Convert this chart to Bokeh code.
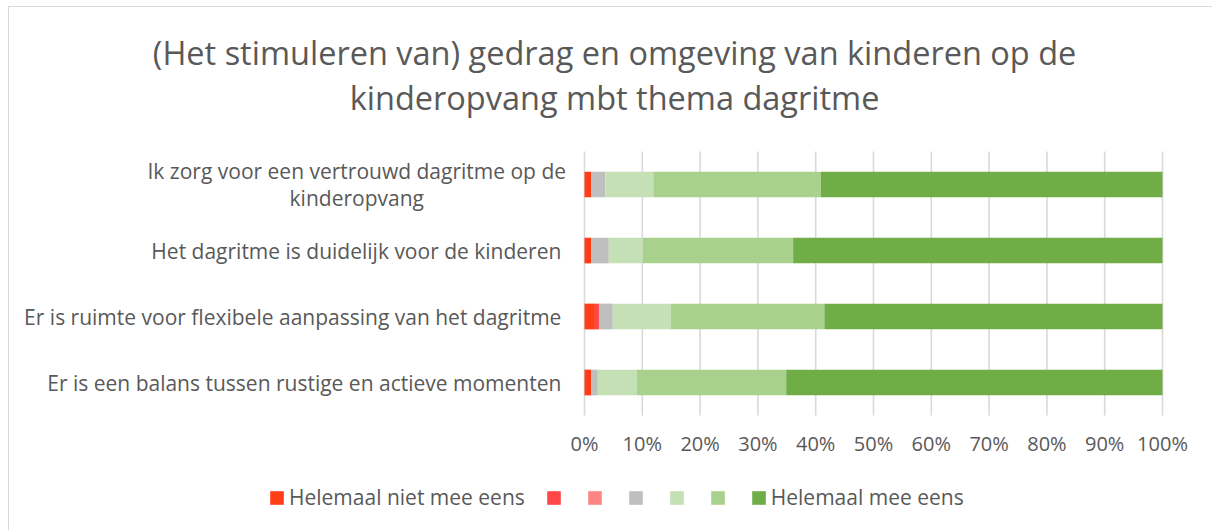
from bokeh.plotting import figure
from bokeh.layouts import column
from bokeh.models import (Range1d, Legend, LegendItem, Label, ColumnDataSource)
from bokeh.core.properties import value
from bokeh.embed import file_html
from bokeh.resources import INLINE

title_lines = ["(Het stimuleren van) gedrag en omgeving van kinderen op de",
               "kinderopvang mbt thema dagritme"]

categories = [
    "Ik zorg voor een vertrouwd dagritme op de kinderopvang",
    "Het dagritme is duidelijk voor de kinderen",
    "Er is ruimte voor flexibele aanpassing van het dagritme",
    "Er is een balans tussen rustige en actieve momenten",
]
# how each category label is shown (first one wraps onto two lines)
category_labels = [
    "Ik zorg voor een vertrouwd dagritme op de\nkinderopvang",
    "Het dagritme is duidelijk voor de kinderen",
    "Er is ruimte voor flexibele aanpassing van het dagritme",
    "Er is een balans tussen rustige en actieve momenten",
]
series_names = ["Helemaal niet mee eens", "", "", "", "", "", "Helemaal mee eens"]
s1 = [1.2, 1.2, 1.8, 1.2]
s2 = [0.0, 0.0, 0.7, 0.0]
s3 = [0.0, 0.0, 0.0, 0.0]
s4 = [2.4, 3.0, 2.4, 1.1]
s5 = [8.3, 5.9, 10.0, 6.7]
s6 = [29.0, 26.0, 26.6, 25.9]
s7 = [59.1, 63.9, 58.5, 65.1]
ticks = list(range(0, 101, 10))
tick_labels = [f"{t}%" for t in ticks]

colors = ["#FF3D17", "#FF4747", "#FF8585", "#BFBFBF", "#C5E0B4", "#A9D18E", "#70AD47"]
keys = ["s1", "s2", "s3", "s4", "s5", "s6", "s7"]
n = len(categories)
rows = [n - 1 - i for i in range(n)]          # first category on top
data = dict(row=rows, cat=categories, s1=s1, s2=s2, s3=s3, s4=s4, s5=s5, s6=s6, s7=s7)

TXT = "#595959"
FONT = "Open Sans"

# the whole canvas is the plotting frame; 0..100 % lies where the original puts it
p = figure(width=1203, height=523, output_backend="svg", toolbar_location=None,
           x_range=Range1d(-99.48, 108.65), y_range=Range1d(-2.2424, 5.6818),
           x_axis_location=None, y_axis_location=None, min_border=0)
p.outline_line_color = None
p.grid.grid_line_color = None

# vertical gridlines across the plot area
grid = ColumnDataSource(dict(t=ticks))
p.segment(x0="t", x1="t", y0=-0.5, y1=n - 0.5, source=grid,
          line_color="#D9D9D9", line_width=1.6)

rs = p.hbar_stack(keys, y="row", height=0.39, color=colors, line_width=0, source=data)

# value-axis labels
p.text(x=ticks, y=-0.924, text=tick_labels, text_align="center",
       text_baseline="middle", text_font=value(FONT), text_font_size="20px",
       text_color=TXT)

# category labels
single = ColumnDataSource(dict(row=rows[1:], text=category_labels[1:]))
p.text(x=-4.0, y="row", text="text", source=single, text_align="right",
       text_baseline="middle", text_font=value(FONT), text_font_size="21px",
       text_color=TXT)
wrap = ColumnDataSource(dict(row=rows[:1], text=category_labels[:1]))
p.text(x=-39.4, y="row", text="text", source=wrap, text_align="center",
       text_baseline="middle", text_font=value(FONT), text_font_size="21px",
       text_color=TXT, text_line_height=0.95)

# two-line title
for txt, yy in zip(title_lines, [5.0, 4.32]):
    p.add_layout(Label(x=5.2, y=yy, text=txt, text_align="center",
                       text_baseline="middle", text_font=FONT,
                       text_font_size="32.5px", text_color=TXT))

items = [LegendItem(label=nm, renderers=[r]) for nm, r in zip(series_names, rs)]
legend = Legend(items=items, orientation="horizontal", location=(259, 19),
                glyph_width=17, glyph_height=17, label_standoff=4, spacing=20,
                label_width=0, padding=0, margin=0, border_line_color=None,
                background_fill_alpha=0, label_text_font=FONT,
                label_text_font_size="21px", label_text_color=TXT)
p.add_layout(legend, "center")

page = column(p)
page.styles = {"margin-left": "8px", "margin-top": "6px",
               "border-top": "1px solid #D9D9D9", "border-left": "1px solid #D9D9D9"}

open("out.html", "w").write(file_html(page, INLINE))
